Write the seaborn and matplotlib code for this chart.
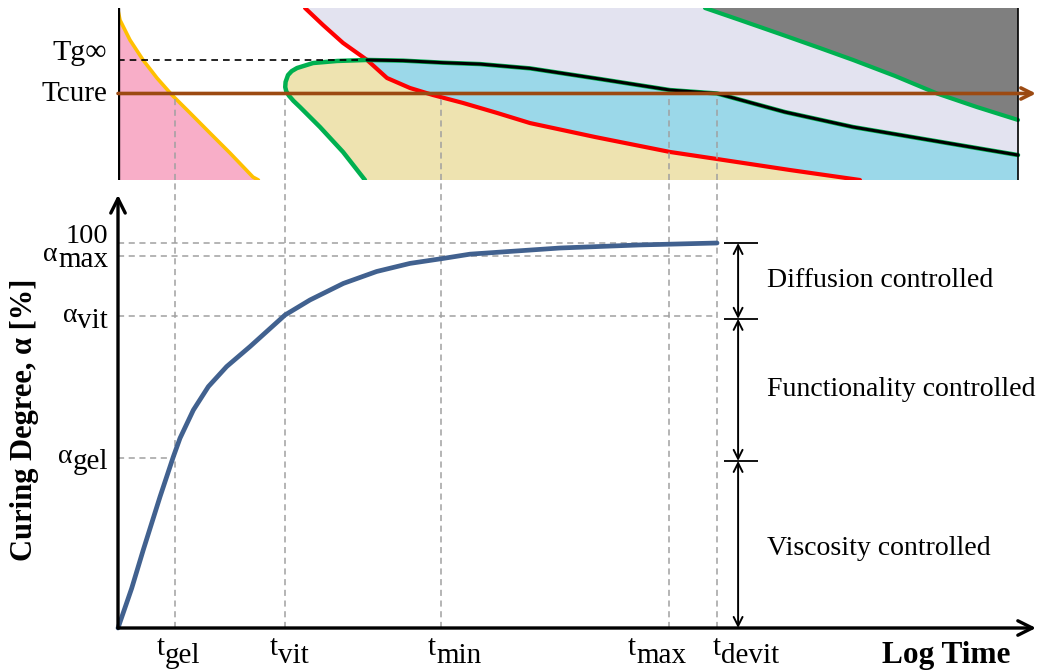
import numpy as np
import seaborn as sns
import matplotlib.pyplot as plt
from matplotlib.transforms import offset_copy

# -------------------------------
# Data (x = log time, arbitrary units)
# -------------------------------
t_subs = ["gel", "vit", "min", "max", "devit"]
t_values = [0.633, 1.856, 3.589, 6.122, 6.656]

# curing degree vs log time
cure_time = [0.0, 0.152, 0.281, 0.467, 0.615, 0.689, 0.837, 1.004, 1.207, 1.467, 1.856, 2.133,
             2.504, 2.874, 3.244, 3.615, 3.911, 4.911, 5.8, 6.656]
cure_alpha = [0.0, 10.3, 20.3, 34.1, 44.5, 49.3, 56.6, 62.7, 67.9, 73.1, 81.3, 85.2,
              89.5, 92.6, 94.7, 96.0, 97.1, 98.7, 99.5, 100.0]

alpha_subs = ["max", "vit", "gel"]
alpha_values = [96.6, 81.0, 44.2]
alpha_top = 100.0

regime_labels = ["Diffusion controlled", "Functionality controlled", "Viscosity controlled"]
regime_bounds = [100.0, 80.3, 43.4, 0.0]

# TTT diagram (temperature in arbitrary units, 0-100)
T_inf = 70.0
T_cure = 50.3

yellow_x = [0.0, 0.022, 0.133, 0.278, 0.433, 0.6, 0.8, 1.022, 1.244, 1.5, 1.56]
yellow_T = [98.8, 93.0, 81.4, 69.8, 59.3, 49.4, 39.0, 27.3, 15.7, 1.7, 0.0]

red_x = [2.078, 2.278, 2.5, 2.767, 2.989, 3.244, 3.5, 3.833, 4.211, 4.578, 5.3, 6.133, 6.656, 7.467, 8.244]
red_T = [100.0, 90.1, 79.7, 69.8, 59.3, 53.5, 49.4, 44.8, 39.0, 33.1, 25.0, 16.3, 12.2, 5.8, 0.0]

# green "C" curve, from the bottom round the nose up to the plateau
vit_x = [2.744, 2.5, 2.244, 2.022, 1.95, 1.9, 1.87, 1.858, 1.862, 1.889, 1.93, 1.989, 2.167, 2.433, 2.767]
vit_T = [0.0, 16.3, 30.8, 42.4, 46.0, 49.0, 51.5, 54.0, 57.0, 61.0, 63.3, 65.1, 68.0, 69.2, 69.8]

# black curve from the plateau down to the right edge
black_x = [2.767, 3.167, 3.611, 4.022, 4.578, 5.356, 6.133, 6.656, 7.411, 8.167, 9.1, 10.0]
black_T = [69.8, 69.4, 68.2, 67.4, 64.9, 58.7, 52.3, 50.3, 39.5, 30.8, 22.5, 14.5]

# upper right green curve bounding the grey region
grey_x = [6.522, 6.911, 7.356, 7.8, 8.167, 8.633, 9.1, 9.544, 10.0]
grey_T = [100.0, 93.0, 84.9, 76.7, 69.8, 60.5, 50.3, 42.4, 34.9]

# -------------------------------
# Style
# -------------------------------
sns.set_theme(style="white")
plt.rcParams["font.family"] = ["Liberation Serif", "DejaVu Serif"]
plt.rcParams["text.color"] = "black"

FS = 20.5
X_MAX = 10.25
dash_grey = "#a0a0a0"
dash = (0, (4, 3))

fig = plt.figure(figsize=(10.41, 6.70), dpi=100)
ax_top = fig.add_axes([118 / 1041, 490 / 670, 922.5 / 1041, 172 / 670])
ax = fig.add_axes([118 / 1041, 42 / 670, 922.5 / 1041, 448 / 670])

for a in (ax_top, ax):
    a.set_xlim(0, X_MAX)
    a.set_xticks([])
    a.set_yticks([])
    a.patch.set_alpha(0)
    for s in a.spines.values():
        s.set_visible(False)
ax_top.set_ylim(0, 100)
ax.set_ylim(0, 448 / 3.85)

# -------------------------------
# Top panel: TTT diagram
# -------------------------------
yx, yT = np.array(yellow_x), np.array(yellow_T)
rx, rT = np.array(red_x), np.array(red_T)
vx, vT = np.array(vit_x), np.array(vit_T)
bx, bT = np.array(black_x), np.array(black_T)
gx, gT = np.array(grey_x), np.array(grey_T)
cut = int(np.searchsorted(rx, bx[0]))  # red meets the plateau here

ax_top.fill(np.r_[0, yx], np.r_[0, yT], color="#f8aec8", lw=0, zorder=1)
ax_top.fill(np.r_[vx, rx[cut:]], np.r_[vT, rT[cut:]], color="#eee3b0", lw=0, zorder=1)
ax_top.fill(np.r_[rx[cut:], 10.0, bx[::-1]], np.r_[rT[cut:], 0, bT[::-1]], color="#9bd8e9", lw=0, zorder=1)
ax_top.fill(np.r_[rx[:cut + 1], bx[1:], gx[::-1]], np.r_[rT[:cut + 1], bT[1:], gT[::-1]],
            color="#e3e3f0", lw=0, zorder=1)
ax_top.fill(np.r_[gx, 10.0], np.r_[gT, 100.0], color="#7f7f7f", lw=0, zorder=1)

sns.lineplot(x=yx, y=yT, ax=ax_top, sort=False, estimator=None, color="#ffc000", lw=2.6, zorder=3)
sns.lineplot(x=rx, y=rT, ax=ax_top, sort=False, estimator=None, color="#ff0000", lw=3, zorder=3)
sns.lineplot(x=np.r_[vx, bx[1:]], y=np.r_[vT, bT[1:]], ax=ax_top, sort=False, estimator=None,
             color="#00b050", lw=3.2, zorder=3)
sns.lineplot(x=bx, y=bT, ax=ax_top, sort=False, estimator=None, color="black", lw=2.2, zorder=4)
sns.lineplot(x=gx, y=gT, ax=ax_top, sort=False, estimator=None, color="#00b050", lw=3, zorder=3)
for line in ax_top.lines:
    line.set_solid_joinstyle("round")

ax_top.axvline(0, color="black", lw=2.4, zorder=6)
ax_top.plot([10, 10], [0, 100], color="black", lw=1.2, zorder=6)
ax_top.plot([0, vx[-1] - 0.05], [T_inf, T_inf], color="black", lw=1.2, ls=dash, zorder=5)
ax_top.vlines(t_values, 0, T_cure, colors=dash_grey, lw=1.1, linestyles=dash, zorder=5)
ax_top.annotate("", xy=(10.2, T_cure), xytext=(0, T_cure), annotation_clip=False, zorder=7,
                arrowprops=dict(arrowstyle="->", color="#9c4a12", lw=2.6, mutation_scale=20,
                                shrinkA=0, shrinkB=0))

ax_top.text(-0.12, T_inf, "Tg∞", fontsize=21.5, ha="right", va="baseline")
ax_top.text(-0.12, T_cure - 4.5, "Tcure", fontsize=21, ha="right", va="baseline")

# -------------------------------
# Bottom panel: curing degree
# -------------------------------
ax.vlines(t_values, 0, 448 / 3.85, colors=dash_grey, lw=1.1, linestyles=dash, zorder=1)
ax.hlines([alpha_top] + alpha_values[:2], 0, t_values[-1], colors=dash_grey, lw=1.1, linestyles=dash, zorder=1)
ax.hlines(alpha_values[2], 0, t_values[0], colors=dash_grey, lw=1.1, linestyles=dash, zorder=1)

sns.lineplot(x=cure_time, y=cure_alpha, ax=ax, estimator=None, color="#41618f", lw=3.4, zorder=3)
for line in ax.lines:
    line.set_clip_on(False)
    line.set_solid_joinstyle("round")

arrow_kw = dict(arrowstyle="->", color="black", lw=2.4, mutation_scale=26, shrinkA=0, shrinkB=0)
ax.annotate("", xy=(0, 112.5), xytext=(0, 0), annotation_clip=False, arrowprops=arrow_kw)
ax.annotate("", xy=(10.2, 0), xytext=(0, 0), annotation_clip=False, arrowprops=arrow_kw)

renderer = fig.canvas.get_renderer()
px_per_x = ax.transData.transform((1, 0))[0] - ax.transData.transform((0, 0))[0]


def sub_label(x, y, base, sub, size_base, size_sub, drop, align):
    """letter with a lowered subscript, anchored at its left or right edge"""
    sub_tr = offset_copy(ax.transData, fig=fig, y=-drop, units="dots")
    if align == "left":
        t = ax.text(x, y, base, fontsize=size_base, ha="left", va="baseline", clip_on=False)
        w = t.get_window_extent(renderer).width / px_per_x
        ax.text(x + w, y, sub, fontsize=size_sub, ha="left", va="baseline", transform=sub_tr, clip_on=False)
    else:
        s = ax.text(x, y, sub, fontsize=size_sub, ha="right", va="baseline", transform=sub_tr, clip_on=False)
        w = s.get_window_extent(renderer).width / px_per_x
        ax.text(x - w, y, base, fontsize=size_base, ha="right", va="baseline", clip_on=False)


ax.text(-0.11, alpha_top, "100", fontsize=FS, ha="right", va="baseline")
for val, sub in zip(alpha_values, alpha_subs):
    sub_label(-0.11, val - 1.4, "α", sub, 20, 21, 6, "right")

label_left = [0.433, 1.689, 3.444, 5.667, 6.611]
for x0, sub in zip(label_left, t_subs):
    sub_label(x0, -7.0, "t", sub, 21, 21, 8, "left")

ax.text(9.2, -9.1, "Log Time", fontsize=22.5, fontweight="bold", ha="center", va="baseline", clip_on=False)
fig.text(25 / 1041, 1 - 420 / 670, "Curing Degree, α [%]", fontsize=22, fontweight="bold",
         rotation=90, ha="center", va="center")

# regime brackets
bar_x = 6.89
ax.hlines(regime_bounds[:3], 6.73, 7.11, colors="black", lw=1.3)
for hi, lo, lab in zip(regime_bounds[:-1], regime_bounds[1:], regime_labels):
    ax.annotate("", xy=(bar_x, lo), xytext=(bar_x, hi), annotation_clip=False,
                arrowprops=dict(arrowstyle="<->", color="black", lw=1.4, mutation_scale=16,
                                shrinkA=0, shrinkB=0))
    ax.text(7.21, (hi + lo) / 2 + (0 if lo > 0 else -1), lab, fontsize=20.1, ha="left", va="center")

plt.savefig("out.png", dpi=100)
plt.close()
